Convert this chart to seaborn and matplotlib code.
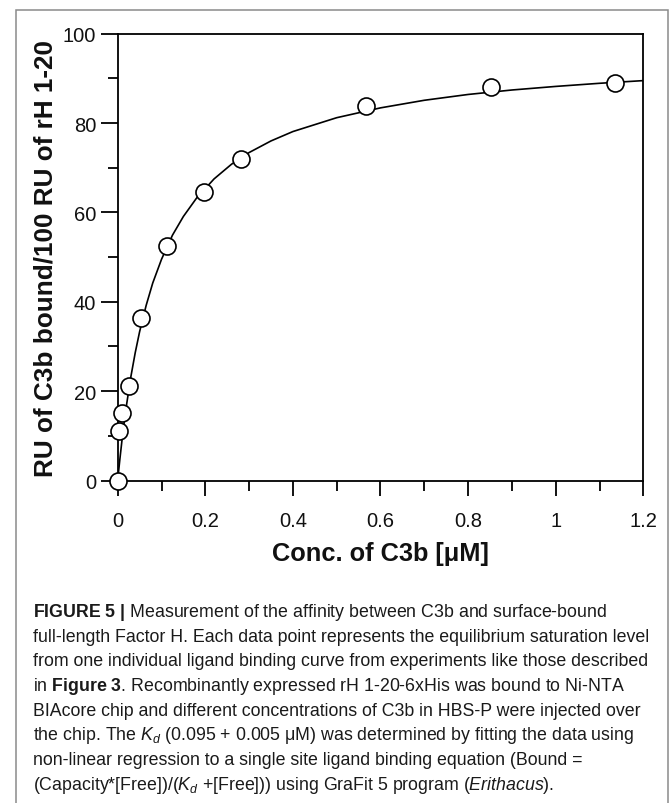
import matplotlib
matplotlib.use("Agg")
import matplotlib.pyplot as plt
from matplotlib.patches import Rectangle
from matplotlib.ticker import MultipleLocator, FixedLocator
import seaborn as sns
import pandas as pd

# ---- data ----
conc_uM = [0, 0.0037, 0.0105, 0.0265, 0.053, 0.112, 0.198, 0.282, 0.567, 0.852, 1.135]
ru_bound = [0, 11.0, 15.0, 21.1, 36.3, 52.5, 64.5, 72.0, 83.9, 88.1, 89.0]

# fitted binding curve
curve_x = [0, 0.002, 0.005, 0.01, 0.015, 0.02, 0.03, 0.04, 0.05, 0.065, 0.08, 0.1,
           0.125, 0.15, 0.18, 0.22, 0.26, 0.3, 0.35, 0.4, 0.5, 0.6, 0.7, 0.8,
           0.9, 1.0, 1.1, 1.2]
curve_y = [0, 2.0, 4.8, 9.2, 13.2, 16.8, 23.2, 28.6, 33.3, 39.2, 44.2, 49.5,
           54.9, 59.1, 63.2, 67.5, 70.8, 73.4, 76.0, 78.1, 81.2, 83.4, 85.1, 86.4,
           87.4, 88.2, 88.9, 89.5]

x_ticks = [0, 0.2, 0.4, 0.6, 0.8, 1.0, 1.2]
x_tick_labels = ["0", "0.2", "0.4", "0.6", "0.8", "1", "1.2"]
y_ticks = [0, 20, 40, 60, 80, 100]
y_tick_labels = ["0", "20", "40", "60", "80", "100"]

x_label = "Conc. of C3b [\u03bcM]"
y_label = "RU of C3b bound/100 RU of rH 1-20"

caption_lines = [
    r"$\mathbf{FIGURE\ 5\ |}$ Measurement of the affinity between C3b and surface-bound",
    "full-length Factor H. Each data point represents the equilibrium saturation level",
    "from one individual ligand binding curve from experiments like those described",
    r"in $\mathbf{Figure\ 3}$. Recombinantly expressed rH 1-20-6xHis was bound to Ni-NTA",
    "BIAcore chip and different concentrations of C3b in HBS-P were injected over",
    r"the chip. The $K_d$ (0.095 + 0.005 $\mathrm{\mu}$M) was determined by fitting the data using",
    "non-linear regression to a single site ligand binding equation (Bound =",
    r"(Capacity*[Free])/($K_d$ +[Free])) using GraFit 5 program ($\mathit{Erithacus}$).",
]

# ---- style ----
sns.set_theme(style="ticks")
plt.rcParams["font.family"] = ["Liberation Sans", "DejaVu Sans"]
plt.rcParams["mathtext.fontset"] = "custom"
plt.rcParams["mathtext.rm"] = "Liberation Sans"
plt.rcParams["mathtext.it"] = "Liberation Sans:italic"
plt.rcParams["mathtext.bf"] = "Liberation Sans:bold"

W, H = 671, 804
fig = plt.figure(figsize=(W / 100, H / 100), dpi=100)
fig.patch.set_facecolor("white")

def px(x, y):
    return x / W, 1 - y / H

# outer frame
fig.add_artist(Rectangle(px(15.5, 811), (668.5 - 15.5) / W, (811 - 11) / H,
                         transform=fig.transFigure, fill=False,
                         edgecolor="#8a8a8a", linewidth=1.1))

ax_left, ax_right, ax_top, ax_bottom = 117.7, 643.3, 34.7, 481.5
ax = fig.add_axes([ax_left / W, 1 - ax_bottom / H,
                   (ax_right - ax_left) / W, (ax_bottom - ax_top) / H])

curve_df = pd.DataFrame({"x": curve_x, "y": curve_y})
pts_df = pd.DataFrame({"x": conc_uM, "y": ru_bound})

sns.lineplot(data=curve_df, x="x", y="y", ax=ax, color="black", linewidth=1.2,
             sort=True, estimator=None, zorder=3)
sns.scatterplot(data=pts_df, x="x", y="y", ax=ax, marker="o", s=150,
                facecolor="white", edgecolor="black", linewidth=1.2,
                zorder=5, clip_on=False)

ax.set_xlim(0, 1.2)
ax.set_ylim(0, 100)
ax.xaxis.set_major_locator(FixedLocator(x_ticks))
ax.set_xticklabels(x_tick_labels)
ax.yaxis.set_major_locator(FixedLocator(y_ticks))
ax.set_yticklabels(y_tick_labels)
ax.xaxis.set_minor_locator(MultipleLocator(0.1))
ax.yaxis.set_minor_locator(MultipleLocator(10))

for s in ax.spines.values():
    s.set_visible(True)
    s.set_color("black")
    s.set_linewidth(1.3)

ax.tick_params(axis="x", which="major", direction="out", length=11, width=1.3,
               color="black", labelsize=14.5, pad=11, labelcolor="#111111")
ax.tick_params(axis="y", which="major", direction="out", length=12.5, width=1.3,
               color="black", labelsize=14.5, pad=3, labelcolor="#111111")
ax.tick_params(axis="both", which="minor", direction="out", length=7.5, width=1.3,
               color="black")

ax.set_xlabel(x_label, fontsize=18.3, fontweight="bold", color="#111111")
ax.set_ylabel(y_label, fontsize=18.8, fontweight="bold", color="#111111")
ax.xaxis.set_label_coords(0.5, (ax_bottom - 554) / (ax_bottom - ax_top))
ax.yaxis.set_label_coords((46 - ax_left) / (ax_right - ax_left), 0.5)
ax.xaxis.label.set_va("center")
ax.yaxis.label.set_va("center")

# caption
y0 = 617.0
dy = 24.7
for i, line in enumerate(caption_lines):
    fig.text(*px(33, y0 + i * dy), line, fontsize=12.8, color="#1a1a1a",
             ha="left", va="baseline")

fig.savefig("out.png", dpi=100, facecolor="white")
